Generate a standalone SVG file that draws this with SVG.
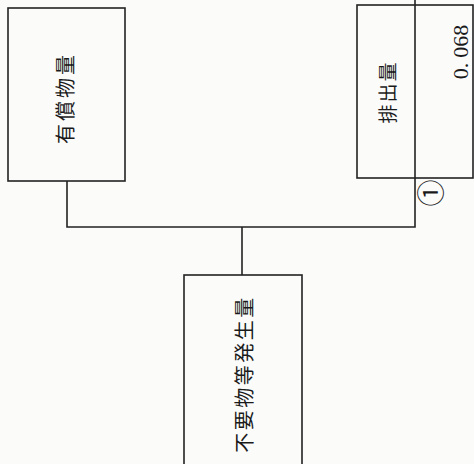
<svg xmlns="http://www.w3.org/2000/svg" width="474" height="464" viewBox="0 0 474 464">
<style>
.box{fill:none;stroke:#222;stroke-width:1.6}
.ln{fill:none;stroke:#222;stroke-width:1.6}
.jp{font-family:"Noto Sans CJK JP","Noto Sans CJK SC",sans-serif;font-size:20px;fill:#1a1a1a}
.num{font-family:"Liberation Serif",serif;font-size:22px;fill:#1a1a1a}
</style>
<rect x="0" y="0" width="474" height="464" fill="#fbfbfa"/>
<g id="connectors">
<path class="ln" d="M67,181 V227 H415 V0"/>
<path class="ln" d="M242,227 V275"/>
</g>
<g id="node-yushobutsu">
<rect class="box" x="8" y="8" width="117" height="173"/>
<text class="jp" transform="translate(64,98) rotate(-90)" text-anchor="middle" dominant-baseline="central" letter-spacing="3">有償物量</text>
</g>
<g id="node-haishutsu">
<rect class="box" x="357" y="5" width="116" height="173"/>
<text class="jp" style="font-size:19px" transform="translate(386,92) rotate(-90)" text-anchor="middle" dominant-baseline="central" letter-spacing="2">排出量</text>
<text class="num" transform="translate(460,52) rotate(-90)" text-anchor="middle" dominant-baseline="central">0.<tspan dx="5">068</tspan></text>
<text class="jp" style="font-size:27px" transform="translate(429,193) rotate(-90)" text-anchor="middle" dominant-baseline="central">①</text>
</g>
<g id="node-fuyobutsu">
<rect class="box" x="184" y="275" width="118" height="200"/>
<text class="jp" transform="translate(243,374) rotate(-90)" text-anchor="middle" dominant-baseline="central" letter-spacing="2.5">不要物等発生量</text>
</g>
</svg>
